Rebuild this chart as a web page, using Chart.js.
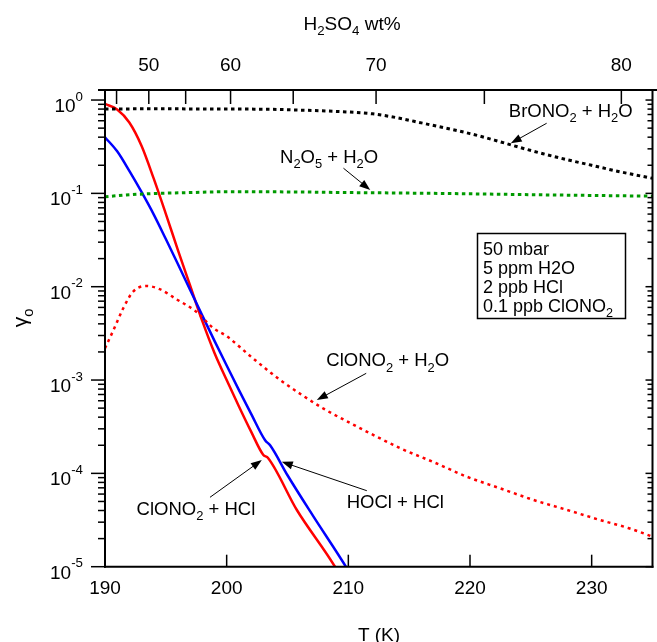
<!DOCTYPE html>
<html lang="en">
<head>
<meta charset="UTF-8">
<title>Reactive uptake vs temperature</title>
<script src="https://cdn.jsdelivr.net/npm/chart.js"></script>
<style>
  html, body { margin: 0; padding: 0; background: #ffffff; }
  #wrap { width: 657px; height: 642px; position: relative; }
</style>
</head>
<body>
<div id="wrap"><canvas id="myChart"></canvas></div>
<script>
// values: temperature (K) and gamma for each curve
const brT     = [190, 195, 200, 203, 206, 209, 212, 214, 216, 218, 220, 222, 224, 226, 228, 230, 232, 235];
const brGamma = [0.803, 0.805, 0.80, 0.798, 0.78, 0.755, 0.711, 0.646, 0.569, 0.50, 0.437, 0.372, 0.313, 0.266, 0.229, 0.20, 0.174, 0.145];

const n2o5T     = [190, 192, 194, 197, 200, 205, 210, 215, 220, 225, 230, 235];
const n2o5Gamma = [0.092, 0.0966, 0.0995, 0.102, 0.104, 0.1037, 0.102, 0.1007, 0.0989, 0.0968, 0.095, 0.0933];

const clh2oT     = [190, 190.7, 191.5, 192.3, 193.4, 194.5, 195.9, 197.5, 198.9, 200, 202, 204.4, 206.2, 208, 210.2, 212, 214.3, 217, 219.75, 222.5, 225.2, 228, 230.7, 233, 235];
const clh2oGamma = [2.19e-3, 3.44e-3, 5.87e-3, 8.83e-3, 1.02e-2, 9.4e-3, 7.3e-3, 5.4e-3, 3.6e-3, 2.95e-3, 1.78e-3, 1.0e-3, 6.9e-4, 4.9e-4, 3.44e-4, 2.6e-4, 1.85e-4, 1.32e-4, 9.2e-5, 6.9e-5, 5.2e-5, 4.05e-5, 3.16e-5, 2.6e-5, 2.1e-5];

const clhclT     = [190, 191, 192, 193, 194, 195, 196, 197, 198, 199, 200, 201, 202, 203, 203.4, 205.77, 208.9, 209.33];
const clhclGamma = [0.908, 0.794, 0.575, 0.324, 0.1445, 0.0603, 0.02455, 0.01023, 4.27e-3, 1.95e-3, 1.0e-3, 5.25e-4, 2.82e-4, 1.585e-4, 1.46e-4, 4.05e-5, 1.0e-5, 7.9e-6];

const hoclT     = [190, 191, 192, 193, 194, 195, 196, 197, 198, 199, 200, 201, 202, 203.16, 203.57, 205, 207.14, 209.8, 210.15];
const hoclGamma = [0.399, 0.282, 0.174, 0.1035, 0.0596, 0.0324, 0.01738, 9.23e-3, 4.90e-3, 2.63e-3, 1.43e-3, 7.85e-4, 4.37e-4, 2.265e-4, 2.0e-4, 9.55e-5, 3.44e-5, 1.0e-5, 8.35e-6];

// axes
const tTicks   = [190, 200, 210, 220, 230];
const decades  = [-5, -4, -3, -2, -1, 0];
const wtTicks  = [45, 50, 55, 60, 65, 70, 75, 80];          // H2SO4 wt%
const wtTemps  = [190.95, 193.6, 196.63, 200.32, 205.47, 212.28, 221.18, 232.44]; // T where each wt% sits

const FONT = '"Liberation Sans", Arial, sans-serif';

function pts(xs, ys) {
    return xs.map((t, i) => ({ x: t, y: ys[i] }));
}

// label text as [string, kind] pieces, kind '' | 'sub' | 'sup'
function drawRich(ctx, parts, x, y, size, align) {
    const small = size * 0.7;
    let total = 0;
    const widths = parts.map(([t, k]) => {
        ctx.font = (k ? small : size) + 'px ' + FONT;
        const w = ctx.measureText(t).width;
        total += w;
        return w;
    });
    let cx = x;
    if (align === 'center') cx = x - total / 2;
    if (align === 'right') cx = x - total;
    ctx.textAlign = 'left';
    ctx.textBaseline = 'alphabetic';
    parts.forEach(([t, k], i) => {
        ctx.font = (k ? small : size) + 'px ' + FONT;
        let dy = 0;
        if (k === 'sub') dy = size * 0.28;
        if (k === 'sup') dy = -size * 0.6;
        ctx.fillText(t, cx, y + dy);
        cx += widths[i];
    });
}

function seg(ctx, x1, y1, x2, y2) {
    ctx.beginPath();
    ctx.moveTo(x1, y1);
    ctx.lineTo(x2, y2);
    ctx.stroke();
}

function arrow(ctx, x1, y1, x2, y2) {
    const ang = Math.atan2(y2 - y1, x2 - x1);
    const len = 11, half = 4;
    ctx.lineWidth = 1;
    seg(ctx, x1, y1, x2 - Math.cos(ang) * len * 0.8, y2 - Math.sin(ang) * len * 0.8);
    ctx.beginPath();
    ctx.moveTo(x2, y2);
    ctx.lineTo(x2 - Math.cos(ang) * len - Math.sin(ang) * half, y2 - Math.sin(ang) * len + Math.cos(ang) * half);
    ctx.lineTo(x2 - Math.cos(ang) * len + Math.sin(ang) * half, y2 - Math.sin(ang) * len - Math.cos(ang) * half);
    ctx.closePath();
    ctx.fill();
}

// curve labels with arrows, anchored in data coordinates
const notes = [
    { parts: [['BrONO', ''], ['2', 'sub'], [' + H', ''], ['2', 'sub'], ['O', '']], at: [228.28, 0.782], from: [226.3, 0.564], to: [223.35, 0.344] },
    { parts: [['N', ''], ['2', 'sub'], ['O', ''], ['5', 'sub'], [' + H', ''], ['2', 'sub'], ['O', '']], at: [208.42, 0.251], from: [209.6, 0.186], to: [211.8, 0.1087] },
    { parts: [['ClONO', ''], ['2', 'sub'], [' + H', ''], ['2', 'sub'], ['O', '']], at: [213.24, 1.64e-3], from: [211.47, 1.18e-3], to: [207.41, 6.1e-4] },
    { parts: [['ClONO', ''], ['2', 'sub'], [' + HCl', '']], at: [197.47, 4.23e-5], from: [198.63, 5.54e-5], to: [202.89, 1.39e-4] },
    { parts: [['HOCl + HCl', '']], at: [213.86, 4.97e-5], from: [211.52, 6.52e-5], to: [204.53, 1.33e-4] }
];

const boxLines = [
    [['50 mbar', '']],
    [['5 ppm H2O', '']],
    [['2 ppb HCl', '']],
    [['0.1 ppb ClONO', ''], ['2', 'sub']]
];

const axesPlugin = {
    id: 'axesPlugin',
    afterDraw(chart) {
        const { ctx, chartArea: a, scales: { x, y } } = chart;
        ctx.save();
        ctx.strokeStyle = '#000';
        ctx.fillStyle = '#000';
        ctx.lineCap = 'butt';

        // frame
        ctx.lineWidth = 2;
        seg(ctx, a.left, a.top, a.left, a.bottom + 1);
        seg(ctx, a.right, a.top, a.right, a.bottom + 1);
        seg(ctx, a.left - 1, a.bottom, a.right + 1, a.bottom);
        seg(ctx, a.left - 7, a.top, chart.width, a.top);

        // y ticks (log), left outward, right inward
        ctx.lineWidth = 1.5;
        decades.forEach(d => {
            const yp = y.getPixelForValue(Math.pow(10, d));
            seg(ctx, a.left - 14, yp, a.left, yp);
            seg(ctx, a.right - 7, yp, a.right, yp);
            drawRich(ctx, [['10', ''], [d === 0 ? '0' : '-' + (-d), 'sup']], 83, yp + 12, 19, 'right');
            if (d < 0) {
                for (let m = 2; m <= 9; m++) {
                    const ym = y.getPixelForValue(m * Math.pow(10, d));
                    seg(ctx, a.left - 7, ym, a.left, ym);
                    seg(ctx, a.right - 5, ym, a.right, ym);
                }
            }
        });

        // bottom T ticks, inward
        tTicks.forEach(t => {
            const xp = x.getPixelForValue(t);
            seg(ctx, xp, a.bottom, xp, a.bottom - 12);
            ctx.font = '19px ' + FONT;
            ctx.textAlign = 'center';
            ctx.textBaseline = 'alphabetic';
            ctx.fillText(String(t), xp, 594);
        });

        // top H2SO4 wt% ticks, inward
        wtTicks.forEach((w, i) => {
            const xp = x.getPixelForValue(wtTemps[i]);
            seg(ctx, xp, a.top, xp, a.top + 14);
            if (w % 10 === 0) {
                ctx.font = '19px ' + FONT;
                ctx.textAlign = 'center';
                ctx.fillText(String(w), xp, 71);
            }
        });

        // axis titles
        drawRich(ctx, [['H', ''], ['2', 'sub'], ['SO', ''], ['4', 'sub'], [' wt%', '']], 352, 30, 19, 'center');
        ctx.font = '19px ' + FONT;
        ctx.textAlign = 'center';
        ctx.fillText('T (K)', 379, 641);

        ctx.save();
        ctx.translate(27, 318);
        ctx.rotate(-Math.PI / 2);
        drawRich(ctx, [['\u03b3', ''], ['o', 'sub']], 0, 0, 21, 'center');
        ctx.restore();

        // curve labels
        notes.forEach(n => {
            drawRich(ctx, n.parts, x.getPixelForValue(n.at[0]), y.getPixelForValue(n.at[1]) + 6.5, 18.5, 'center');
            arrow(ctx, x.getPixelForValue(n.from[0]), y.getPixelForValue(n.from[1]),
                       x.getPixelForValue(n.to[0]), y.getPixelForValue(n.to[1]));
        });

        // conditions box
        ctx.lineWidth = 1.5;
        ctx.strokeRect(477.5, 233.5, 148, 85);
        boxLines.forEach((ln, i) => {
            drawRich(ctx, ln, 483, 254.5 + i * 19.3, 18, 'left');
        });

        ctx.restore();
    }
};

const ctx = document.getElementById('myChart').getContext('2d');
const myChart = new Chart(ctx, {
    type: 'line',
    data: {
        datasets: [
            { label: 'BrONO2 + H2O', data: pts(brT, brGamma), borderColor: '#000000', borderWidth: 3, borderDash: [3.5, 3.5] },
            { label: 'N2O5 + H2O', data: pts(n2o5T, n2o5Gamma), borderColor: '#009a00', borderWidth: 3, borderDash: [3.5, 3.5] },
            { label: 'ClONO2 + H2O', data: pts(clh2oT, clh2oGamma), borderColor: '#ff0000', borderWidth: 2.5, borderDash: [3, 4] },
            { label: 'HOCl + HCl', data: pts(hoclT, hoclGamma), borderColor: '#0000ff', borderWidth: 2.5 },
            { label: 'ClONO2 + HCl', data: pts(clhclT, clhclGamma), borderColor: '#ff0000', borderWidth: 2.5 }
        ]
    },
    options: {
        responsive: true,
        maintainAspectRatio: false,
        animation: false,
        layout: { padding: { left: 105, right: 4.5, top: 90, bottom: 75.3 } },
        elements: {
            point: { radius: 0 },
            line: { cubicInterpolationMode: 'monotone', fill: false }
        },
        plugins: { legend: { display: false }, tooltip: { enabled: false } },
        scales: {
            x: { type: 'linear', min: 190, max: 235, bounds: 'data', display: false },
            y: { type: 'logarithmic', min: 1e-5, max: 1.281, bounds: 'data', display: false }
        }
    },
    plugins: [axesPlugin]
});
</script>
</body>
</html>
